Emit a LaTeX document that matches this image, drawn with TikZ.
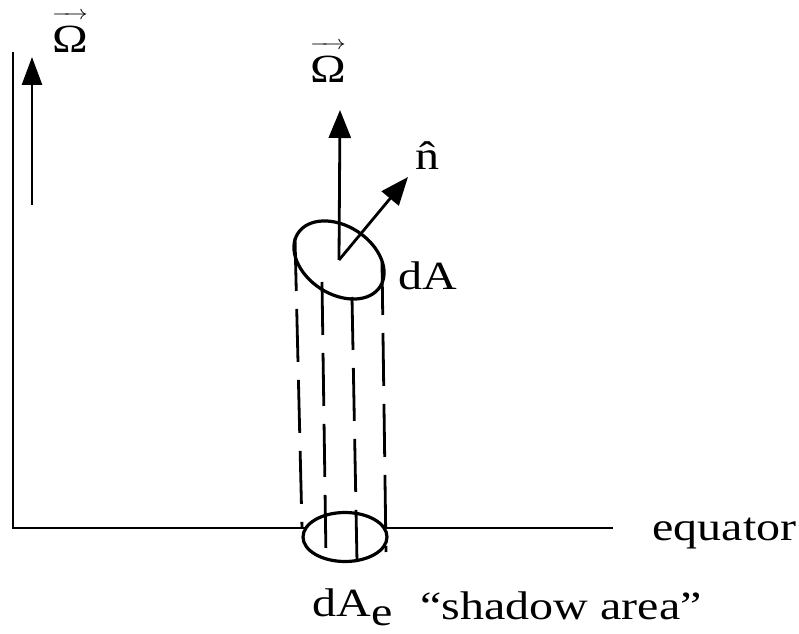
\documentclass[tikz,border=0pt]{standalone}
\usepackage{fontspec}
\setmainfont{Liberation Serif}
\usetikzlibrary{arrows.meta,shapes.geometric}
\newcommand{\arrowover}[1]{\vbox{\offinterlineskip\halign{\hfil##\hfil\cr{\fontsize{10}{10}\selectfont\rightarrowfill}\cr\noalign{\kern3.5pt}#1\cr}}}

\begin{document}
\begin{tikzpicture}[
  x=0.5pt,y=0.5pt,
  lbl/.style={inner sep=0pt,xscale=1.2,font=\fontsize{20}{23}\selectfont},
  arrow/.style={-{Triangle[length=14pt,width=11pt]},line width=1.4pt},
  disk/.style={draw,ellipse,line width=1.6pt,inner sep=0pt},
  proj/.style={line width=1.4pt,dash pattern=on 26.5pt off 9pt}
]
  \useasboundingbox (0,0) rectangle (799,633);
  % axis and equator
  \coordinate (top) at (13,581);
  \coordinate (origin) at (13,105);
  \coordinate (east) at (613,105);
  \draw[line width=1.2pt] (top) -- (origin) -- (east);
  \coordinate (spinfoot) at (32,428);
  \coordinate (spintip) at (32,576);
  \draw[arrow,-{Triangle[length=14pt,width=10pt]}] (spinfoot) -- (spintip);
  \node[lbl,anchor=base] (omegaL) at (70,580) {\arrowover{Ω}};
  % surface element and its shadow
  \node[disk,fill=white,minimum width=42pt,minimum height=24.5pt] (dAe) at (345,96) {};
  \node[disk,minimum width=49pt,minimum height=34pt,rotate=-33] (dA) at (339,373) {};
  \coordinate (p1t) at (295,395); \coordinate (p1b) at (302,105);
  \coordinate (p2t) at (322,351); \coordinate (p2b) at (326,75);
  \coordinate (p3t) at (352,336); \coordinate (p3b) at (357,71);
  \coordinate (p4t) at (382,371); \coordinate (p4b) at (386,81);
  \draw[proj] (p1t) -- (p1b);
  \draw[proj] (p2t) -- (p2b);
  \draw[proj] (p3t) -- (p3b);
  \draw[proj] (p4t) -- (p4b);
  \coordinate (omegatip) at (340,523);
  \coordinate (ntip) at (408,456);
  \draw[arrow] (dA.center) -- (omegatip);
  \draw[arrow] (dA.center) -- (ntip);
  % labels
  \node[lbl,anchor=base] (omegaM) at (328,550) {\arrowover{Ω}};
  \node[lbl,anchor=base] (nhat) at (427,463) {\^n};
  \node[lbl,anchor=base west] (dAlbl) at (398,343) {dA};
  \node[lbl,anchor=base west] (eqlbl) at (652,93) {equator};
  \node[lbl,anchor=base west] (dAelbl) at (312,17) {dA\raisebox{-4.5pt}{e}};
  \node[lbl,anchor=base west] (shadow) at (420,14) {“shadow area”};
\end{tikzpicture}
\end{document}
